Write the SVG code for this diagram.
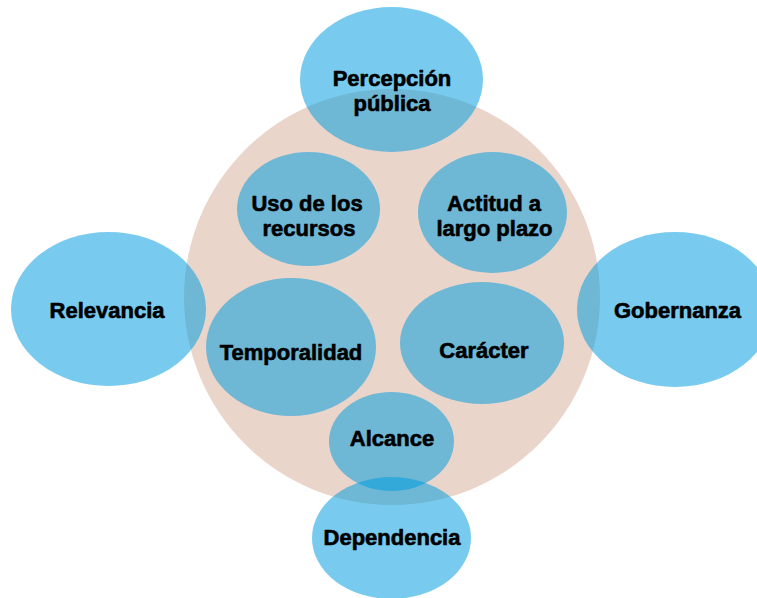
<svg xmlns="http://www.w3.org/2000/svg" width="757" height="598" viewBox="0 0 757 598">
<style>
.bg{fill:#EAD5CB}
.n{fill:#009DDF;fill-opacity:0.53}
.t{font-family:"Liberation Sans",Arial,sans-serif;font-weight:bold;font-size:22px;fill:#000;stroke:#000;stroke-width:0.6;stroke-linejoin:round;text-anchor:middle}
</style>
<rect width="757" height="598" fill="#fff"/>
<g id="hub"><circle class="bg" cx="392" cy="297" r="208"/></g>
<g id="connectors"></g>
<g id="percepcion"><ellipse class="n" cx="391.5" cy="79.5" rx="91.5" ry="72.5"/><text class="t" x="392" y="86">Percepción</text><text class="t" x="392" y="111">pública</text></g>
<g id="uso"><ellipse class="n" cx="308.5" cy="209" rx="71.5" ry="57"/><text class="t" x="307" y="211">Uso de los</text><text class="t" x="309" y="236">recursos</text></g>
<g id="actitud"><ellipse class="n" cx="492.5" cy="212.5" rx="74.5" ry="60.5"/><text class="t" x="494" y="211">Actitud a</text><text class="t" x="494.5" y="236">largo plazo</text></g>
<g id="temporalidad"><ellipse class="n" cx="291" cy="347" rx="85" ry="69"/><text class="t" x="291" y="360">Temporalidad</text></g>
<g id="caracter"><ellipse class="n" cx="482" cy="343" rx="82" ry="61"/><text class="t" x="484" y="358">Carácter</text></g>
<g id="relevancia"><ellipse class="n" cx="108.5" cy="309" rx="97.5" ry="77"/><text class="t" x="107" y="318">Relevancia</text></g>
<g id="gobernanza"><ellipse class="n" cx="675" cy="309.5" rx="98" ry="77.5"/><text class="t" x="677.5" y="318">Gobernanza</text></g>
<g id="alcance"><ellipse class="n" cx="391.5" cy="441.5" rx="62.5" ry="49.5"/><text class="t" x="392" y="446">Alcance</text></g>
<g id="dependencia"><ellipse class="n" cx="391.5" cy="538" rx="79.5" ry="61"/><text class="t" x="392" y="545">Dependencia</text></g>
</svg>
